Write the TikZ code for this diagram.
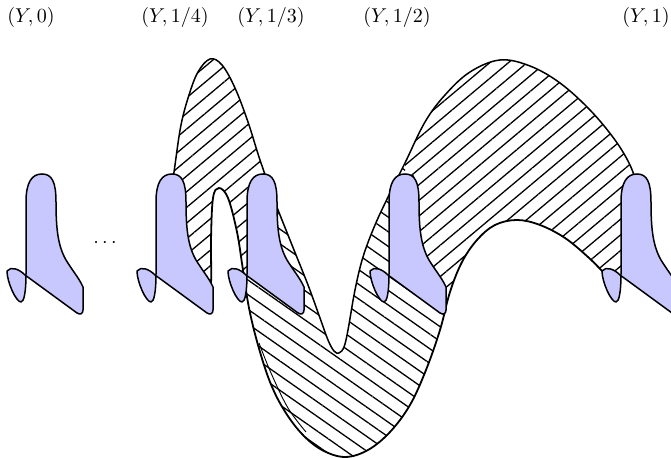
\documentclass[tikz,border=0pt]{standalone}
\usetikzlibrary{patterns.meta}
\definecolor{slice}{RGB}{200,200,255}
\tikzset{
  yslice/.pic={
    \path[fill=slice,draw=black,line width=0.75pt,line join=round]
      (0,0) .. controls (10,0) and (14,8) .. (14,28)
      .. controls (14,55) and (16,72) .. (24,86)
      .. controls (30,96) and (37,104) .. (41,113) -- (41,136)
      .. controls (41,140) and (38,141) .. (35,139) -- (-17,101)
      .. controls (-23,95) and (-31,92) .. (-35,97)
      .. controls (-35,108) and (-26,128) .. (-21,128)
      .. controls (-18,128) and (-16,118) .. (-16,100) -- (-16,28)
      .. controls (-16,8) and (-10,0) .. (0,0) -- cycle;
  },
  ribbonedge/.style={draw=black,line width=0.75pt,line join=round},
  hatchA/.style={pattern={Lines[angle=40,distance=6pt,line width=0.65pt]}},
  hatchB/.style={pattern={Lines[angle=-35,distance=6pt,line width=0.65pt]}},
  lbl/.style={inner sep=0pt}
}
\begin{document}
\begin{tikzpicture}[x=0.5pt,y=-0.5pt]
\useasboundingbox (0,0) rectangle (671,458);
% ribbon (saved once, filled three times with different hatching)
\path[save path=\ribbon]
  plot[smooth,tension=0.6] coordinates {(171,195) (175,165) (181,125) (189,95) (198,72) (210,59) (222,65) (235,88) (248,122) (260,160) (275,202) (292,245) (308,285) (320,318) (328,340) (334,351) (339,353) (344,347) (348,330) (355,290) (363,257) (375,225) (390,193) (405,163) (425,122) (445,95) (470,72) (500,60) (530,66) (560,83) (590,110) (615,140) (630,165) (637,185)}
  -- (636,270) --
  plot[smooth,tension=0.6] coordinates {(603,272) (588,257) (565,238) (540,225) (517,220) (495,225) (477,240) (462,262) (450,292) (440,330) (426,370) (410,405) (390,432) (368,450) (345,457) (322,450) (302,434) (284,410) (270,382) (258,345) (249,308) (243,270) (237,232) (228,198) (219,188) (213,198) (211,240) (211,283) (207,305)}
  -- (176,290) -- cycle;
\begin{scope}
  \clip (0,0) -- (300,0) -- (300,182) -- (256,182) -- (256,272) -- (226,272) -- (226,458) -- (0,458) -- cycle;
  \path[hatchA,use path=\ribbon];
\end{scope}
\begin{scope}
  \clip (300,0) -- (405,0) -- (405,175) -- (414,175) -- (414,292) -- (449,292) -- (449,458) -- (226,458) -- (226,272) -- (256,272) -- (256,182) -- (300,182) -- cycle;
  \path[hatchB,use path=\ribbon];
\end{scope}
\begin{scope}
  \clip (405,0) -- (671,0) -- (671,458) -- (449,458) -- (449,292) -- (414,292) -- (414,175) -- (405,175) -- cycle;
  \path[hatchA,use path=\ribbon];
\end{scope}
% ribbon edges
\draw[ribbonedge] plot[smooth,tension=0.6] coordinates {(171,195) (175,165) (181,125) (189,95) (198,72) (210,59) (222,65) (235,88) (248,122) (260,160) (275,202) (292,245) (308,285) (320,318) (328,340) (334,351) (339,353) (344,347) (348,330) (355,290) (363,257) (375,225) (390,193) (405,163) (425,122) (445,95) (470,72) (500,60) (530,66) (560,83) (590,110) (615,140) (630,165) (637,185)};
\draw[ribbonedge,line width=0.9pt] plot[smooth,tension=0.6] coordinates {(603,272) (588,257) (565,238) (540,225) (517,220) (495,225) (477,240) (462,262) (450,292) (440,330) (426,370) (410,405) (390,432) (368,450) (345,457) (322,450) (302,434) (284,410) (270,382) (258,345) (249,308) (243,270) (237,232) (228,198) (219,188) (213,198) (211,240) (211,283) (207,305)};
\draw[line width=0.45pt] plot[smooth,tension=0.6] coordinates {(259,343) (271,373) (288,408) (306,432)};
% slices
\pic (s0) at (42,174) {yslice};
\pic (s1) at (172,174) {yslice};
\pic (s2) at (263,174) {yslice};
\pic (s3) at (405,174) {yslice};
\pic (s4) at (637,174) {yslice};
% labels
\node[lbl] (l0) at (31,18) {$(Y,0)$};
\node[lbl] (l1) at (175,18) {$(Y,1/4)$};
\node[lbl] (l2) at (271,18) {$(Y,1/3)$};
\node[lbl] (l3) at (397,18) {$(Y,1/2)$};
\node[lbl] (l4) at (646,18) {$(Y,1)$};
\node[lbl] (dots) at (105,243) {$\cdots$};
\end{tikzpicture}
\end{document}
